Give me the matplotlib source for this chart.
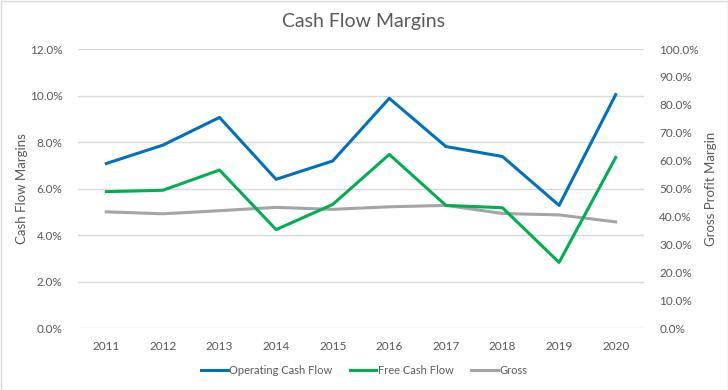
import matplotlib.pyplot as plt
from matplotlib.ticker import PercentFormatter
from matplotlib.patches import Rectangle

years = ["2011", "2012", "2013", "2014", "2015", "2016", "2017", "2018", "2019", "2020"]
operating_cf = [7.08, 7.87, 9.06, 6.40, 7.19, 9.88, 7.81, 7.38, 5.28, 10.04]
free_cf = [5.87, 5.93, 6.80, 4.24, 5.32, 7.47, 5.28, 5.18, 2.83, 7.34]
gross = [41.7, 41.0, 42.1, 43.3, 42.6, 43.5, 44.0, 41.1, 40.6, 38.1]

TXT = "#595959"
plt.rcParams["font.family"] = ["Lato", "DejaVu Sans"]

fig = plt.figure(figsize=(7.28, 3.9), dpi=100)
ax = fig.add_axes([78 / 728, 1 - 328.3 / 390, 566 / 728, 279.3 / 390])
ax2 = ax.twinx()

x = range(len(years))
l1, = ax.plot(x, operating_cf, color="#0070C0", lw=2.2, label="Operating Cash Flow")
l2, = ax.plot(x, free_cf, color="#00B050", lw=2.2, label="Free Cash Flow")
l3, = ax2.plot(x, gross, color="#A5A5A5", lw=2.2, label="Gross")
ax.set_zorder(ax2.get_zorder() + 1)
ax.patch.set_visible(False)

ax.set_xlim(-0.5, len(years) - 0.5)
ax.set_ylim(0, 12)
ax.set_yticks([0, 2, 4, 6, 8, 10, 12])
ax.yaxis.set_major_formatter(PercentFormatter(decimals=1))
ax2.set_ylim(0, 100)
ax2.set_yticks(range(0, 101, 10))
ax2.yaxis.set_major_formatter(PercentFormatter(decimals=1))
ax.set_xticks(list(x))
ax.set_xticklabels(years)

ax.grid(axis="y", color="#D9D9D9", lw=1)
for a in (ax, ax2):
    for s in a.spines.values():
        s.set_visible(False)
    a.tick_params(length=0, labelsize=8.5, colors=TXT)
ax.tick_params(axis="y", pad=11)
ax2.tick_params(axis="y", pad=11)
ax.tick_params(axis="x", pad=9)

ax.set_ylabel("Cash Flow Margins", color=TXT, fontsize=9.5)
ax2.set_ylabel("Gross Profit Margin", color=TXT, fontsize=9.5)
ax.yaxis.set_label_coords((28 - 78) / 566, 0.5)
ax2.yaxis.set_label_coords((705 - 78) / 566, 0.5)
fig.text(0.5, 1 - 22 / 390, "Cash Flow Margins", ha="center", va="center", fontsize=14, color=TXT)

fig.legend(handles=[l1, l2, l3], loc="center", bbox_to_anchor=(0.5, 1 - 370 / 390), ncol=3,
           frameon=False, fontsize=8, labelcolor=TXT, handlelength=2.4, handletextpad=0.1,
           columnspacing=1.6)

fig.patches.append(Rectangle((0.5 / 728, 0.5 / 390), 1 - 1 / 728, 1 - 1 / 390, transform=fig.transFigure,
                             fill=False, edgecolor="#D9D9D9", lw=1))

fig.savefig("out.png", dpi=100)
